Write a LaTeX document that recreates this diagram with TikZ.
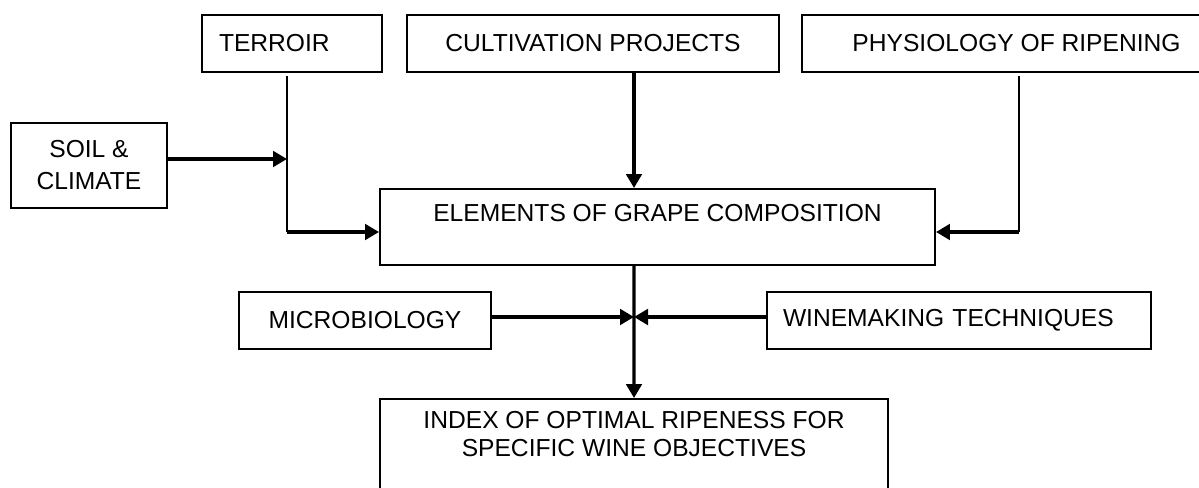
\documentclass[tikz,border=0pt]{standalone}
\usepackage{fontspec}
\setmainfont{Liberation Sans}
\usetikzlibrary{arrows.meta}
\tikzstyle{block} = [rectangle, draw=black, line width=1.1pt,
                     minimum height=1.14cm, text centered,
                     font=\fontsize{14pt}{15.9pt}\selectfont]
\tikzstyle{arrow} = [line width=1.9pt, -{Triangle[length=0.28cm, width=0.31cm]}]
\tikzstyle{line}  = [line width=1.3pt]

\begin{document}
\begin{tikzpicture}[node distance=2cm]
\useasboundingbox (0,0) rectangle (23.98,-9.76);
\clip (0,0) rectangle (23.98,-9.76);
\node (ter) [block, minimum width=3.6cm, text width=2.92cm, inner xsep=0.34cm,
             align=left] at (5.84,-0.87) {TERROIR};
\node (cul) [block, right of=ter, xshift=4.02cm, minimum width=7.44cm] {CULTIVATION PROJECTS};
\node (phy) [block, right of=cul, xshift=6.47cm, minimum width=8.58cm] {PHYSIOLOGY OF RIPENING};
\node (soi) [block, below of=ter, xshift=-4.06cm, yshift=-0.44cm,
             minimum width=3.12cm, minimum height=1.70cm, align=center] {SOIL \&\\[2.3pt]CLIMATE};
\node (ele) [block, below of=cul, xshift=1.29cm, yshift=-1.67cm, minimum width=11.1cm,
             minimum height=1.52cm, align=center] {ELEMENTS OF GRAPE COMPOSITION\\\mbox{}};
\node (mic) [block, below of=ele, xshift=-5.85cm, yshift=0.13cm, minimum width=5.04cm] {MICROBIOLOGY};
\node (win) [block, below of=ele, xshift=6.03cm,  yshift=0.13cm, minimum width=7.68cm,
             text width=7.04cm, inner xsep=0.32cm, align=left] {WINEMAKING TECHNIQUES};
\node (ind) [block, below of=ele, xshift=-0.47cm, yshift=-2.42cm, minimum width=10.16cm,
             minimum height=1.96cm, align=center] {INDEX OF OPTIMAL RIPENESS FOR\\SPECIFIC WINE OBJECTIVES\\\mbox{}};

\coordinate (hub) at (12.68,-6.34);
\coordinate (tj)  at (5.74,-4.64);
\coordinate (sj)  at (5.74,-3.18);
\coordinate (pj)  at (20.38,-4.64);

\draw [line, shorten <=0.06cm] (ter.south -| tj) -- (tj);
\draw [arrow] (tj) -- (ele.west |- tj);
\draw [arrow] (soi.east |- sj) -- (sj);
\draw [arrow] (cul.south -| hub) -- (ele.north -| hub);
\draw [line, shorten <=0.06cm] (phy.south -| pj) -- (pj);
\draw [arrow] (pj) -- (ele.east |- pj);
\draw [arrow] (ele.south -| hub) -- (ind.north);
\draw [arrow] (mic.east |- hub) -- (hub);
\draw [arrow] (win.west |- hub) -- (hub);
\end{tikzpicture}
\end{document}
